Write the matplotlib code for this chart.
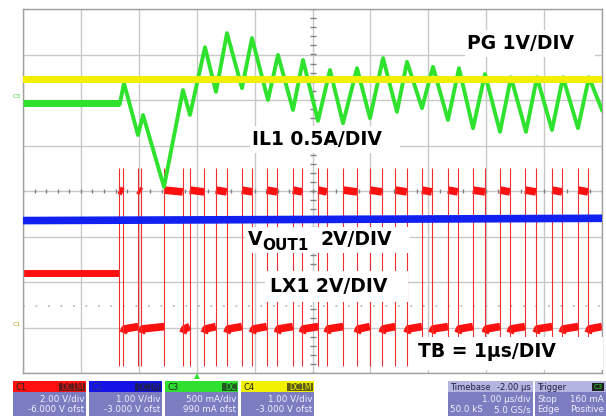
import numpy as np
import matplotlib
matplotlib.use("Agg")
import matplotlib.pyplot as plt
from matplotlib.patches import Rectangle, Polygon

# screen: 10 div x 1 us/div horizontally, 8 div vertically (values in divisions)
lx_rise_us = [1.66, 1.99, 2.44, 2.88, 3.33, 3.78, 4.21, 4.66, 5.10, 5.53,
              5.99, 6.43, 6.89, 7.34, 7.77, 8.24, 8.67, 9.14, 9.59]
lx_fall_us = [1.73, 2.04, 2.76, 3.13, 3.52, 3.96, 4.39, 4.82, 5.25, 5.77,
              6.20, 6.63, 7.06, 7.51, 7.98, 8.41, 8.86, 9.31, 9.76]
lx_pre_div = -1.80
lx_high_div = 0.0
lx_low_div = -3.0
lx_spike_top_div = 0.50
lx_spike_bot_div = -3.85

il_t_us = [0.0, 1.675, 1.744, 1.986, 2.073, 2.435, 2.763, 2.884, 3.143, 3.333,
           3.523, 3.782, 3.955, 4.231, 4.404, 4.663, 4.836, 5.095, 5.302, 5.527,
           5.769, 5.993, 6.218, 6.459, 6.632, 6.891, 7.081, 7.340, 7.530, 7.772,
           7.979, 8.238, 8.428, 8.687, 8.877, 9.136, 9.326, 9.585, 9.775, 10.0]
il_div = [1.93, 1.93, 2.37, 1.23, 1.67, 0.09, 2.22, 1.67, 3.16, 2.18,
          3.47, 2.26, 3.36, 2.00, 2.99, 1.78, 2.88, 1.54, 2.66, 1.49,
          2.70, 1.60, 2.92, 1.74, 2.84, 1.82, 2.73, 1.56, 2.70, 1.38,
          2.57, 1.30, 2.50, 1.30, 2.50, 1.34, 2.50, 1.38, 2.50, 1.78]

pg_div = 2.47
vout_t_us = [0.0, 10.0]
vout_div = [-0.65, -0.60]

ch_names = ["C1", "C2", "C3", "C4"]
ch_colors = ["#ff1010", "#1414e6", "#30e030", "#f0f000"]
ch_coupling = ["DC1M", "DC1M", "DC", "DC1M"]
ch_scale = ["2.00 V/div", "1.00 V/div", "500 mA/div", "1.00 V/div"]
ch_offset = ["-6.000 V ofst", "-3.000 V ofst", "990 mA ofst", "-3.000 V ofst"]

RED, BLUE, GREEN, YELLOW = "#ff1010", "#1020f0", "#2ee22e", "#f0f000"

fig = plt.figure(figsize=(6.06, 4.16), dpi=100)
fig.patch.set_facecolor("white")
ax = fig.add_axes([23 / 606, 43 / 416, 579 / 606, 364 / 416])
ax.set_xlim(0, 10)
ax.set_ylim(-4, 4)
ax.set_xticks(range(11))
ax.set_yticks(range(-4, 5))
ax.tick_params(length=0, labelbottom=False, labelleft=False)
ax.grid(True, color="#c8c8c8", lw=1.0)
for s in ax.spines.values():
    s.set_color("#a0a0a0")
    s.set_linewidth(1.0)

# centre axes tick marks
xt = np.arange(0, 10.01, 0.2)
ax.plot(xt, np.zeros_like(xt), ls="none", marker="|", ms=3, color="#808080", mew=1)
yt = np.arange(-4, 4.01, 0.2)
ax.plot(np.full_like(yt, 5), yt, ls="none", marker="_", ms=4, color="#808080", mew=1)
ax.axhline(-2.53, color="#b0b0b0", lw=1.2, ls=(0, (1, 6.5)))

# LX1 (C1, red)
ax.plot([0, lx_rise_us[0]], [lx_pre_div, lx_pre_div], color=RED, lw=5, solid_capstyle="butt", zorder=2)
for i, (r, f) in enumerate(zip(lx_rise_us, lx_fall_us)):
    ax.plot([r, f], [lx_high_div + 0.02, lx_high_div - 0.02], color=RED, lw=5.5,
            solid_capstyle="butt", zorder=2)
    nxt = lx_rise_us[i + 1] if i + 1 < len(lx_rise_us) else 10.0
    ax.plot([f, f + 0.03, nxt], [lx_low_div - 0.12, lx_low_div - 0.03, lx_low_div + 0.02],
            color=RED, lw=5.5, solid_capstyle="butt", solid_joinstyle="round", zorder=2)
ax.vlines(lx_rise_us + lx_fall_us, lx_spike_bot_div, lx_spike_top_div, color="#f03030", lw=0.8, zorder=2)

# VOUT1 (C2, blue)
ax.plot(vout_t_us, vout_div, color=BLUE, lw=5.5, solid_capstyle="butt", zorder=3)

# IL1 (C3, green)
ax.plot(il_t_us[:2], il_div[:2], color=GREEN, lw=5, solid_capstyle="butt", zorder=4)
ax.plot(il_t_us[1:], il_div[1:], color=GREEN, lw=2.8, solid_joinstyle="round", zorder=4)

# PG (C4, yellow)
ax.axhline(pg_div, color=YELLOW, lw=5, zorder=5)

# overlay in pixel coordinates for labels and status panel
ov = fig.add_axes([0, 0, 1, 1], zorder=10)
ov.set_xlim(0, 606)
ov.set_ylim(416, 0)
ov.axis("off")
ov.patch.set_alpha(0)

lab_font = dict(fontsize=13.5, fontweight="bold", color="black", family="DejaVu Sans")
boxes = [(465, 30, 130, 27), (250, 126, 150, 27), (245, 227, 165, 26),
         (265, 271, 143, 31), (415, 337, 188, 33)]
for x0, y0, w, h in boxes:
    ov.add_patch(Rectangle((x0, y0), w, h, facecolor="white", edgecolor="none"))
ov.text(467, 49, "PG 1V/DIV", **lab_font)
ov.text(252, 145, "IL1 0.5A/DIV", **lab_font)
ov.text(248, 245, "V", **lab_font)
ov.text(262, 250, "OUT1", fontsize=11, fontweight="bold", family="DejaVu Sans")
ov.text(320, 245, "2V/DIV", **lab_font)
ov.text(270, 292, "LX1 2V/DIV", **lab_font)
ov.text(418, 357, "TB = 1\u00b5s/DIV", **lab_font)

# left-side channel markers and trigger marker
ov.text(13, 97, "C3", fontsize=4.5, color=GREEN, va="center")
ov.text(13, 325, "C1", fontsize=4.5, color="#c0a020", va="center")
ov.add_patch(Polygon([[194, 379], [200, 379], [197, 373]], facecolor=GREEN, edgecolor="none"))

# status panel
panel_body = "#7c7cc0"
small = dict(fontsize=6.3, color="#f0f0ff", family="DejaVu Sans")
for i, name in enumerate(ch_names):
    x0 = 13 + i * 76
    w = 73
    ov.add_patch(Rectangle((x0, 381), w, 11, facecolor=ch_colors[i], edgecolor="none"))
    ov.add_patch(Rectangle((x0, 392), w, 24, facecolor=panel_body, edgecolor="none"))
    cw = 26 if ch_coupling[i] == "DC1M" else 15
    ov.add_patch(Rectangle((x0 + w - cw - 1, 383), cw, 8, facecolor="#202020", edgecolor="none", alpha=0.7))
    ov.text(x0 + 2, 387, name, fontsize=6, color="#202020" if i != 1 else "#303080", va="center")
    ov.text(x0 + w - 2, 387, ch_coupling[i], fontsize=5.5, color=ch_colors[i], va="center", ha="right")
    ov.text(x0 + w - 2, 399, ch_scale[i], ha="right", va="center", **small)
    ov.text(x0 + w - 2, 410, ch_offset[i], ha="right", va="center", **small)

# timebase box
ov.add_patch(Rectangle((448, 381), 85, 11, facecolor="#b4b4e0", edgecolor="none"))
ov.add_patch(Rectangle((448, 392), 85, 24, facecolor=panel_body, edgecolor="none"))
ov.text(450, 387, "Timebase", fontsize=6, color="#202040", va="center")
ov.text(531, 387, "-2.00 \u00b5s", fontsize=6, color="#202040", va="center", ha="right")
ov.text(531, 399, "1.00 \u00b5s/div", ha="right", va="center", **small)
ov.text(450, 410, "50.0 kS", ha="left", va="center", **small)
ov.text(531, 410, "5.0 GS/s", ha="right", va="center", **small)

# trigger box
ov.add_patch(Rectangle((535, 381), 71, 11, facecolor="#b4b4e0", edgecolor="none"))
ov.add_patch(Rectangle((535, 392), 71, 24, facecolor=panel_body, edgecolor="none"))
ov.text(537, 387, "Trigger", fontsize=6, color="#202040", va="center")
ov.add_patch(Rectangle((592, 383), 12, 8, facecolor="#202020", edgecolor="none"))
ov.text(598, 387, "C3", fontsize=5, color=GREEN, va="center", ha="center")
ov.text(537, 399, "Stop", ha="left", va="center", **small)
ov.text(604, 399, "160 mA", ha="right", va="center", **small)
ov.text(537, 410, "Edge", ha="left", va="center", **small)
ov.text(604, 410, "Positive", ha="right", va="center", **small)

fig.savefig("out.png", dpi=100)
